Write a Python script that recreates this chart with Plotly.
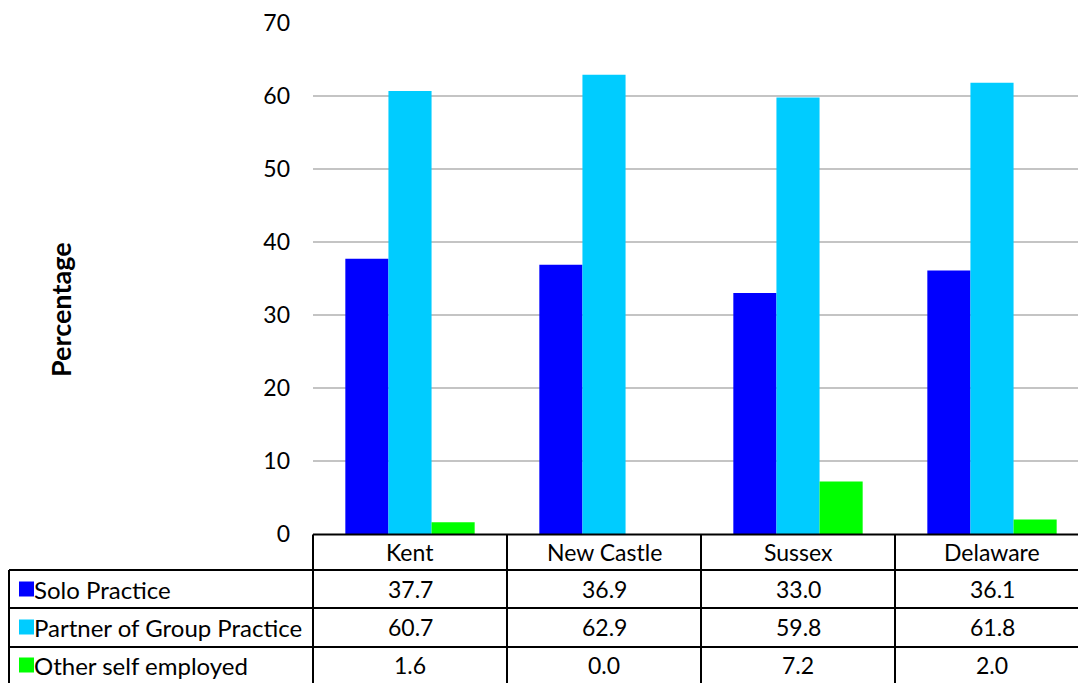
import plotly.graph_objects as go

categories = ["Kent", "New Castle", "Sussex", "Delaware"]
series_names = ["Solo Practice", "Partner of Group Practice", "Other self employed"]
solo = [37.7, 36.9, 33.0, 36.1]
partner = [60.7, 62.9, 59.8, 61.8]
other = [1.6, 0.0, 7.2, 2.0]
colors = ["#0000FF", "#00CCFF", "#00FF00"]
y_ticks = [0, 10, 20, 30, 40, 50, 60, 70]

series_values = [solo, partner, other]

W, H = 1078, 683
L, R, T, B = 313, 0, 23, 149
plot_w = W - L - R
plot_h = H - T - B
cat_px = 194.0
x0 = -0.5
x1 = x0 + plot_w / cat_px

FONT = "Lato"
FS = 23
FS_LABEL = 24


def px_to_paper_x(px):
    return (px - L) / plot_w


def px_to_paper_y(py):
    return (H - B - py) / plot_h


def data_to_paper_x(x):
    return (x - x0) / (x1 - x0)


fig = go.Figure()
for name, vals, col in zip(series_names, series_values, colors):
    fig.add_trace(go.Bar(x=categories, y=vals, name=name, marker_color=col,
                         marker_line_width=0, showlegend=False))

shapes = []
annotations = []
line = dict(color="black", width=2)

# table geometry (pixels)
row_edges = [534.5, 570, 608, 647, 690]
label_left = 9

shapes.append(dict(type="line", xref="paper", yref="paper",
                   x0=0, x1=1.02, y0=px_to_paper_y(row_edges[0]), y1=px_to_paper_y(row_edges[0]), line=line))
for e in row_edges[1:-1]:
    shapes.append(dict(type="line", xref="paper", yref="paper",
                       x0=px_to_paper_x(label_left), x1=1.02,
                       y0=px_to_paper_y(e), y1=px_to_paper_y(e), line=line))
shapes.append(dict(type="line", xref="paper", yref="paper",
                   x0=px_to_paper_x(label_left), x1=px_to_paper_x(label_left),
                   y0=px_to_paper_y(row_edges[1]), y1=px_to_paper_y(row_edges[-1]), line=line))
for i in range(len(categories) + 1):
    xp = data_to_paper_x(i - 0.5)
    shapes.append(dict(type="line", xref="paper", yref="paper",
                       x0=xp, x1=xp, y0=px_to_paper_y(row_edges[0]), y1=px_to_paper_y(row_edges[-1]), line=line))

hy = px_to_paper_y((row_edges[0] + row_edges[1]) / 2)
for c in categories:
    annotations.append(dict(x=c, xref="x", y=hy, yref="paper", text=c, showarrow=False,
                            xanchor="center", yanchor="middle", font=dict(family=FONT, size=FS, color="black")))

row_centers = [589, 627, 665]
for r, (name, vals, col) in enumerate(zip(series_names, series_values, colors)):
    cy = row_centers[r]
    shapes.append(dict(type="rect", xref="paper", yref="paper", line_width=0, fillcolor=col,
                       x0=px_to_paper_x(19), x1=px_to_paper_x(34),
                       y0=px_to_paper_y(cy - 7.5), y1=px_to_paper_y(cy + 7.5)))
    annotations.append(dict(x=px_to_paper_x(32), xref="paper", y=px_to_paper_y(cy), yref="paper",
                            text=name, showarrow=False, xanchor="left", yanchor="middle",
                            font=dict(family=FONT, size=FS_LABEL, color="black")))
    for c, v in zip(categories, vals):
        annotations.append(dict(x=c, xref="x", y=px_to_paper_y(cy), yref="paper",
                                text=f"{v:.1f}", showarrow=False, xanchor="center", yanchor="middle",
                                font=dict(family=FONT, size=FS, color="black")))

annotations.append(dict(x=px_to_paper_x(60), xref="paper", y=px_to_paper_y(310), yref="paper",
                        text="<b>Percentage</b>", textangle=-90, showarrow=False,
                        xanchor="center", yanchor="middle",
                        font=dict(family=FONT, size=27, color="black")))

fig.update_layout(
    width=W, height=H,
    margin=dict(l=L, r=R, t=T, b=B, pad=0),
    paper_bgcolor="white", plot_bgcolor="white",
    barmode="group", bargap=1/3, bargroupgap=0,
    font=dict(family=FONT, size=FS, color="black"),
    xaxis=dict(range=[x0, x1], showticklabels=False, showgrid=False, zeroline=False,
               showline=False, ticks="", fixedrange=True),
    yaxis=dict(range=[0, 70], tickvals=y_ticks, showgrid=True, gridcolor="#C4C4C4", gridwidth=2,
               zeroline=False, showline=False, ticks="", ticklabelstandoff=22, fixedrange=True,
               tickfont=dict(family=FONT, size=FS, color="black")),
    shapes=shapes, annotations=annotations,
)

fig.write_html("out.html", config={"displayModeBar": False},
               post_script="document.body.style.margin='0';document.body.style.overflow='hidden';")
